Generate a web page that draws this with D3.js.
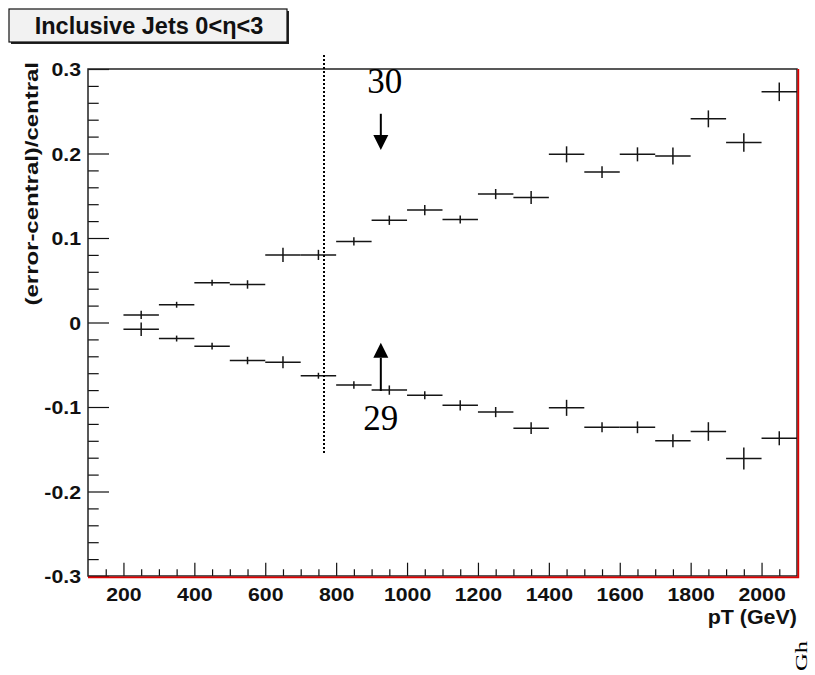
<!DOCTYPE html>
<html>
<head>
<meta charset="utf-8">
<script src="https://cdn.jsdelivr.net/npm/d3@7"></script>
<style>
  html, body { margin: 0; padding: 0; background: #ffffff; }
  svg { display: block; }
  .sans { font-family: "Liberation Sans", Arial, Helvetica, sans-serif; font-weight: bold; }
  .serif { font-family: "Liberation Serif", "Times New Roman", serif; }
</style>
</head>
<body>
<svg id="chart" width="815" height="675"></svg>
<script>
// pT bins (GeV): bin centres, each bin 100 GeV wide
const binCenters = [250, 350, 450, 550, 650, 750, 850, 950, 1050, 1150,
                    1250, 1350, 1450, 1550, 1650, 1750, 1850, 1950, 2050];
const binHalfWidth = 50;

// Upper variation: relative deviation and its error
const upperValues = [0.009, 0.021, 0.047, 0.045, 0.080, 0.080, 0.096, 0.121, 0.133, 0.122,
                     0.152, 0.148, 0.199, 0.178, 0.199, 0.197, 0.241, 0.213, 0.273];
const upperErrors = [0.005, 0.0035, 0.0035, 0.005, 0.0085, 0.006, 0.005, 0.0055, 0.006, 0.0047,
                     0.006, 0.0077, 0.0095, 0.007, 0.0083, 0.010, 0.010, 0.011, 0.011];

// Lower variation: relative deviation and its error
const lowerValues = [-0.008, -0.019, -0.028, -0.045, -0.047, -0.063, -0.074, -0.080, -0.086, -0.098,
                     -0.106, -0.125, -0.101, -0.124, -0.124, -0.140, -0.129, -0.161, -0.137];
const lowerErrors = [0.008, 0.0035, 0.004, 0.0044, 0.007, 0.0035, 0.0044, 0.0055, 0.0047, 0.006,
                     0.006, 0.007, 0.0095, 0.006, 0.007, 0.0077, 0.011, 0.013, 0.0083];

// Axis ranges and ticks
const xDomain = [100, 2100];
const yDomain = [-0.3, 0.3];
const xMajorTicks = [200, 400, 600, 800, 1000, 1200, 1400, 1600, 1800, 2000];
const xMinorTicks = d3.range(150, 2100, 50).filter(v => v % 200 !== 0);
const yMajorTicks = [-0.3, -0.2, -0.1, 0, 0.1, 0.2, 0.3];
const yMinorTicks = d3.range(-14, 15).map(i => i * 0.02).filter(v => Math.abs(Math.round(v * 100)) % 10 !== 0);
const yTickLabels = ["-0.3", "-0.2", "-0.1", "0", "0.1", "0.2", "0.3"];

// Annotations: dotted cut line and the two arrows with their labels
const cutLine = { pt: 766, yTop: 0.317, yBottom: -0.154 };
const arrowDown = { pt: 926, yFrom: 0.247, yTo: 0.204, label: "30" };
const arrowUp   = { pt: 926, yFrom: -0.081, yTo: -0.024, label: "29" };

const titleText = "Inclusive Jets 0<\u03b7<3";
const xTitle = "pT (GeV)";
const yTitle = "(error-central)/central";
const sideText = "Gh";

const margin = { left: 88, right: 797, top: 69, bottom: 576 };
const svg = d3.select("#chart");

const x = d3.scaleLinear().domain(xDomain).range([margin.left, margin.right]);
const y = d3.scaleLinear().domain(yDomain).range([margin.bottom, margin.top]);

// Stretch rendered text horizontally along its baseline
function widen(sel, factor) {
  sel.each(function () {
    const w = this.getComputedTextLength();
    d3.select(this).attr("textLength", w * factor).attr("lengthAdjust", "spacingAndGlyphs");
  });
}

// Title box with drop shadow
const tb = { x: 9, y: 9, w: 278, h: 33 };
svg.append("rect").attr("x", tb.x + 2).attr("y", tb.y + 2).attr("width", tb.w).attr("height", tb.h)
  .attr("fill", "#222");
svg.append("rect").attr("x", tb.x).attr("y", tb.y).attr("width", tb.w).attr("height", tb.h)
  .attr("fill", "#f2f2f2").attr("stroke", "#111").attr("stroke-width", 1.2);
svg.append("text").attr("class", "sans").attr("x", tb.x + tb.w / 2 + 1).attr("y", 34)
  .attr("text-anchor", "middle").attr("font-size", 23.5).attr("fill", "#111")
  .text(titleText);

// X axis: major and minor ticks pointing into the frame
const xMinorAxis = d3.axisBottom(x).tickValues(xMinorTicks).tickSize(-6.7).tickFormat("");
const xMajorAxis = d3.axisBottom(x).tickValues(xMajorTicks).tickSize(-13.3).tickPadding(13)
  .tickFormat(d3.format("d"));
const gxMinor = svg.append("g").attr("transform", `translate(0,${margin.bottom})`).call(xMinorAxis);
const gxMajor = svg.append("g").attr("transform", `translate(0,${margin.bottom})`).call(xMajorAxis);
[gxMinor, gxMajor].forEach(g => {
  g.select(".domain").remove();
  g.selectAll("line").attr("stroke", "#111").attr("stroke-width", 1.2);
});
gxMajor.selectAll("text").attr("class", "sans").attr("font-size", 19).attr("fill", "#111")
  .attr("dy", null).attr("y", 24.5).call(widen, 1.12);

// Y axis: major and minor ticks pointing into the frame
const yMinorAxis = d3.axisLeft(y).tickValues(yMinorTicks).tickSize(-10.7).tickFormat("");
const yMajorAxis = d3.axisLeft(y).tickValues(yMajorTicks).tickSize(-21).tickPadding(7)
  .tickFormat((d, i) => yTickLabels[i]);
const gyMinor = svg.append("g").attr("transform", `translate(${margin.left},0)`).call(yMinorAxis);
const gyMajor = svg.append("g").attr("transform", `translate(${margin.left},0)`).call(yMajorAxis);
[gyMinor, gyMajor].forEach(g => {
  g.select(".domain").remove();
  g.selectAll("line").attr("stroke", "#111").attr("stroke-width", 1.2);
});
gyMajor.selectAll("text").attr("class", "sans").attr("font-size", 19).attr("fill", "#111")
  .attr("dy", "0.36em").call(widen, 1.12);

// Frame: dark on left/top, red edge on the right and bottom
svg.append("rect").attr("x", margin.left).attr("y", margin.top)
  .attr("width", margin.right - margin.left).attr("height", margin.bottom - margin.top)
  .attr("fill", "none").attr("stroke", "#222").attr("stroke-width", 1.5);
svg.append("path")
  .attr("d", `M${margin.left},${margin.bottom + 1.3}H${margin.right + 1.3}V${margin.top}`)
  .attr("fill", "none").attr("stroke", "#e00000").attr("stroke-width", 1.8);

// Axis titles
svg.append("text").attr("class", "sans").attr("x", margin.right).attr("y", 624)
  .attr("text-anchor", "end").attr("font-size", 19.5).attr("fill", "#111")
  .text(xTitle).call(widen, 1.1);
svg.append("text").attr("class", "sans")
  .attr("transform", `translate(38,${margin.top - 7}) rotate(-90)`)
  .attr("text-anchor", "end").attr("font-size", 19).attr("fill", "#111")
  .text(yTitle).call(widen, 1.26);

// Error-bar crosses for one series
function drawSeries(values, errors) {
  const g = svg.append("g").attr("stroke", "#151515").attr("stroke-width", 1.5).attr("fill", "none");
  const pts = binCenters.map((c, i) => ({ c, v: values[i], e: errors[i] }));
  g.selectAll("line.h").data(pts).join("line").attr("class", "h")
    .attr("x1", d => x(d.c - binHalfWidth)).attr("x2", d => x(d.c + binHalfWidth))
    .attr("y1", d => y(d.v)).attr("y2", d => y(d.v));
  g.selectAll("line.v").data(pts).join("line").attr("class", "v")
    .attr("x1", d => x(d.c)).attr("x2", d => x(d.c))
    .attr("y1", d => y(d.v - d.e)).attr("y2", d => y(d.v + d.e));
}
drawSeries(upperValues, upperErrors);
drawSeries(lowerValues, lowerErrors);

// Dotted vertical cut line
svg.append("line")
  .attr("x1", x(cutLine.pt)).attr("x2", x(cutLine.pt))
  .attr("y1", y(cutLine.yTop)).attr("y2", y(cutLine.yBottom))
  .attr("stroke", "#000").attr("stroke-width", 2).attr("stroke-dasharray", "2,2")
  .attr("shape-rendering", "crispEdges");

// Arrows with labels
function drawArrow(a) {
  const x0 = x(a.pt), y0 = y(a.yFrom), y1 = y(a.yTo);
  const dir = Math.sign(y1 - y0);
  const head = 15, halfW = 7.5;
  svg.append("line").attr("x1", x0).attr("x2", x0).attr("y1", y0).attr("y2", y1 - dir * head)
    .attr("stroke", "#000").attr("stroke-width", 2);
  svg.append("path")
    .attr("d", `M${x0},${y1}L${x0 - halfW},${y1 - dir * head}L${x0 + halfW},${y1 - dir * head}Z`)
    .attr("fill", "#000");
  return x0;
}
const xa = drawArrow(arrowDown);
drawArrow(arrowUp);
svg.append("text").attr("class", "serif").attr("x", xa + 4).attr("y", 93)
  .attr("text-anchor", "middle").attr("font-size", 35).attr("fill", "#000").text(arrowDown.label);
svg.append("text").attr("class", "serif").attr("x", xa).attr("y", 430)
  .attr("text-anchor", "middle").attr("font-size", 35).attr("fill", "#000").text(arrowUp.label);

// Rotated side text at the lower right corner
svg.append("text").attr("class", "serif")
  .attr("transform", "translate(807,671) rotate(-90)")
  .attr("font-size", 17).attr("fill", "#000")
  .attr("textLength", 30).attr("lengthAdjust", "spacingAndGlyphs")
  .text(sideText);
</script>
</body>
</html>
